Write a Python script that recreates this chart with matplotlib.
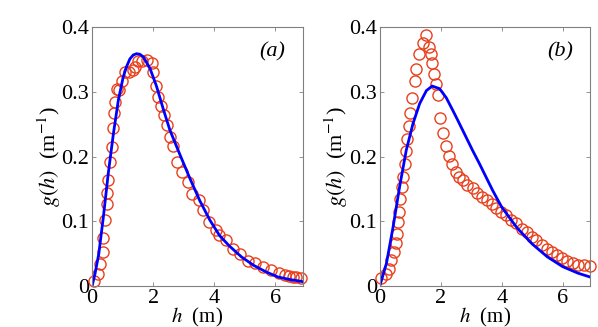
import matplotlib
matplotlib.use('Agg')
import matplotlib.pyplot as plt

plt.rcParams['font.family'] = 'Liberation Serif'
plt.rcParams['mathtext.fontset'] = 'stix'

# panel (a): measured (circles) and fitted (line)
ha_obs = [0.07, 0.19, 0.26, 0.36, 0.37, 0.41, 0.48, 0.50, 0.53, 0.59, 0.64, 0.68,
          0.72, 0.75, 0.81, 0.89, 0.97, 1.08, 1.22, 1.33, 1.41, 1.51, 1.62, 1.79,
          1.95, 2.00, 2.09, 2.17, 2.25, 2.35, 2.44, 2.55, 2.64, 2.77, 2.96, 3.15,
          3.29, 3.50, 3.64, 3.83, 4.05, 4.16, 4.38, 4.62, 4.86, 5.11, 5.33, 5.60,
          5.87, 6.12, 6.31, 6.47, 6.58, 6.69, 6.85]
ga_obs = [0.008, 0.019, 0.034, 0.053, 0.075, 0.102, 0.127, 0.144, 0.164, 0.191, 0.215, 0.244,
          0.267, 0.285, 0.304, 0.303, 0.317, 0.330, 0.331, 0.334, 0.339, 0.347, 0.348, 0.350,
          0.344, 0.330, 0.309, 0.292, 0.278, 0.264, 0.249, 0.231, 0.216, 0.191, 0.177, 0.161,
          0.143, 0.133, 0.117, 0.099, 0.087, 0.079, 0.071, 0.058, 0.050, 0.039, 0.035, 0.030,
          0.025, 0.020, 0.017, 0.015, 0.014, 0.014, 0.012]
ha_fit = [0.0, 0.1, 0.22, 0.37, 0.53, 0.70, 0.86, 1.02, 1.13, 1.24, 1.35, 1.46, 1.57, 1.68,
          1.90, 2.11, 2.33, 2.55, 2.88, 3.20, 3.53, 3.86, 4.18, 4.5, 4.9, 5.3, 5.7, 6.1,
          6.5, 6.9]
ga_fit = [0.0, 0.02, 0.05, 0.107, 0.174, 0.236, 0.287, 0.323, 0.339, 0.351, 0.357, 0.359, 0.358,
          0.354, 0.336, 0.309, 0.274, 0.241, 0.203, 0.167, 0.132, 0.102, 0.078, 0.062, 0.045,
          0.032, 0.022, 0.014, 0.010, 0.007]

# panel (b)
hb_obs = [0.03, 0.20, 0.31, 0.38, 0.47, 0.52, 0.57, 0.60, 0.63, 0.68, 0.72, 0.76,
          0.82, 0.87, 0.90, 0.96, 1.00, 1.07, 1.14, 1.20, 1.29, 1.42, 1.52, 1.61,
          1.67, 1.72, 1.78, 1.85, 1.91, 1.98, 2.07, 2.16, 2.27, 2.37, 2.51, 2.61,
          2.72, 2.86, 3.05, 3.19, 3.36, 3.52, 3.68, 3.81, 3.98, 4.14, 4.30, 4.47,
          4.66, 4.83, 4.99, 5.12, 5.31, 5.47, 5.64, 5.81, 5.97, 6.15, 6.34, 6.51,
          6.70, 6.88]
gb_obs = [0.013, 0.019, 0.027, 0.040, 0.053, 0.066, 0.081, 0.099, 0.115, 0.134, 0.153, 0.169,
          0.189, 0.208, 0.227, 0.247, 0.267, 0.290, 0.317, 0.336, 0.358, 0.376, 0.388, 0.370,
          0.359, 0.344, 0.327, 0.312, 0.295, 0.259, 0.236, 0.216, 0.201, 0.188, 0.177, 0.169,
          0.164, 0.156, 0.151, 0.144, 0.138, 0.133, 0.127, 0.120, 0.115, 0.110, 0.102, 0.097,
          0.089, 0.083, 0.076, 0.071, 0.064, 0.058, 0.053, 0.048, 0.043, 0.039, 0.035, 0.032,
          0.032, 0.031]
hb_fit = [0.0, 0.22, 0.44, 0.65, 0.87, 1.09, 1.31, 1.53, 1.72, 1.96, 2.18, 2.40, 2.56,
          2.8, 3.05, 3.27, 3.5, 3.7, 3.86, 4.0, 4.5, 5.0, 5.5, 6.0, 6.5, 6.9]
gb_fit = [0.0, 0.035, 0.092, 0.153, 0.210, 0.251, 0.282, 0.302, 0.309, 0.305, 0.291, 0.271, 0.256,
          0.233, 0.209, 0.189, 0.167, 0.148, 0.134, 0.122, 0.090, 0.065, 0.045, 0.030, 0.020, 0.014]

panels = [(ha_obs, ga_obs, ha_fit, ga_fit, '(a)'),
          (hb_obs, gb_obs, hb_fit, gb_fit, '(b)')]

fig = plt.figure(figsize=(5.98, 3.27), dpi=100)
lefts = [0.154, 0.635]
width = 0.352

for left, (hx, gy, hf, gf, tag) in zip(lefts, panels):
    ax = fig.add_axes([left, 0.125, width, 0.792])
    ax.plot(hx, gy, 'o', mfc='none', mec='#e8401c', ms=8, mew=1.0, clip_on=False)
    ax.plot(hf, gf, '-', color='#0000ff', lw=2)
    ax.set_xlim(0, 6.9)
    ax.set_ylim(0, 0.4)
    ax.set_xticks([0, 2, 4, 6])
    ax.set_yticks([0, 0.1, 0.2, 0.3, 0.4])
    ax.set_yticklabels(['0', '0.1', '0.2', '0.3', '0.4'])
    ax.tick_params(direction='in', length=3, width=0.6, color='#808080',
                   top=True, right=True, labelsize=16, pad=2)
    for s in ax.spines.values():
        s.set_color('#808080')
        s.set_linewidth(0.8)
    ax.set_xlabel('$h$  (m)', fontsize=15)
    ax.xaxis.set_label_coords(0.5, -0.077)
    ax.set_ylabel('$g(h)$  (m$^{-1}$)', fontsize=16)
    ax.yaxis.set_label_coords(-0.14, 0.5)
    ax.text(0.855, 0.905, tag, transform=ax.transAxes, fontsize=16,
            style='italic', ha='center', va='center')

fig.savefig('out.png', dpi=100)
